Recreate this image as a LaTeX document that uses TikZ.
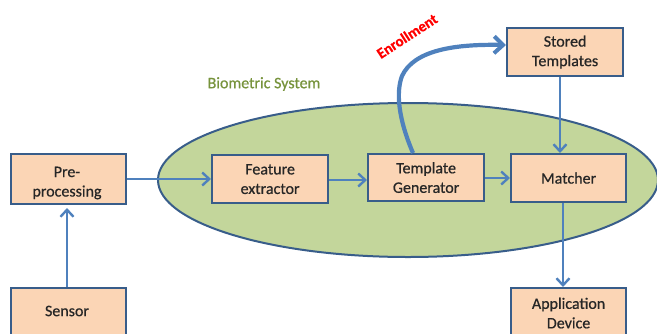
\documentclass[tikz,border=0pt]{standalone}
\usepackage{fontspec}
\setmainfont{Carlito}[FakeBold=0.6]
\newfontfamily\boldface{Carlito}[FakeBold=0.6]
\usetikzlibrary{arrows.meta,shapes.geometric}
\definecolor{boxfill}{HTML}{FBD5B5}
\definecolor{boxline}{HTML}{385D8A}
\definecolor{flow}{HTML}{4F81BD}
\definecolor{sysfill}{HTML}{C3D69B}
\definecolor{systext}{HTML}{77933C}
\definecolor{labeltext}{HTML}{262626}
\tikzset{
  boxfont/.style={font=\fontsize{16}{19.5}\selectfont, text=labeltext},
  block/.style={draw=boxline, line width=2.2pt, fill=boxfill, inner sep=0pt,
    boxfont, align=center, anchor=north west},
  flowarrow/.style={draw=flow, line width=2.4pt,
    -{Straight Barb[length=7pt,width=13pt,line width=2.4pt]}},
}
\begin{document}
\begin{tikzpicture}[x=1pt,y=-1pt]
\useasboundingbox (0,0) rectangle (657,333);

% biometric system region
\node[draw=boxline, line width=2pt, fill=sysfill, ellipse, minimum width=500pt,
  minimum height=154pt, inner sep=0pt] (sys) at (408,180) {};
\node[text=systext, font=\fontsize{16}{18}\selectfont] (syslabel) at (264,84) {Biometric System};

% processing blocks
\node[block, minimum width=115pt, minimum height=50pt] (pre) at (10,153) {};
\begin{scope}
  \clip (pre.north west) rectangle (pre.south east);
  \node[boxfont, align=center] (pretext) at (67,183) {Pre-\\processing};
\end{scope}
\node[block, minimum width=115pt, minimum height=48pt] (sensor) at (10,287) {};
\node[boxfont] (sensortext) at (67,311) {Sensor};

\node[block, minimum width=116pt, minimum height=48pt] (feat) at (211,154) {Feature\\extractor};
\node[block, minimum width=116pt, minimum height=47pt] (tmpl) at (367,153) {Template\\Generator};
\node[block, minimum width=115pt, minimum height=48pt] (match) at (510,153) {Matcher};
\node[block, minimum width=116pt, minimum height=48pt] (store) at (506,27) {Stored\\Templates};
\node[block, minimum width=115pt, minimum height=50pt] (app) at (510,287) {Application\\Device};

% data flow
\coordinate (preIn) at (67,208);
\draw[flowarrow] (sensor.north -| preIn) -- (preIn);
\draw[flowarrow] (pre.east |- 0,179) -- (feat.west |- 0,179);
\draw[flowarrow] (feat.east |- 0,180) -- (tmpl.west |- 0,180);
\draw[flowarrow] (tmpl.east |- 0,178) -- (match.west |- 0,178);
\draw[flowarrow] (store.south -| 560,0) -- (match.north -| 560,0);
\draw[flowarrow] (match.south -| 563,0) -- (app.north -| 563,0);

% enrollment path
\coordinate (enrStart) at (413,153);
\draw[draw=flow, line width=4.2pt, -{Straight Barb[length=9pt,width=17pt,line width=4pt]}]
  (enrStart) .. controls (398,118) and (396,92) .. (402,76)
  .. controls (414,50) and (455,44) .. (store.west |- 0,45);
\node[text=red, font=\boldface\bfseries\fontsize{15}{17}\selectfont, rotate=33, inner sep=0pt] (enr) at (407,36) {Enrollment};
\end{tikzpicture}
\end{document}
